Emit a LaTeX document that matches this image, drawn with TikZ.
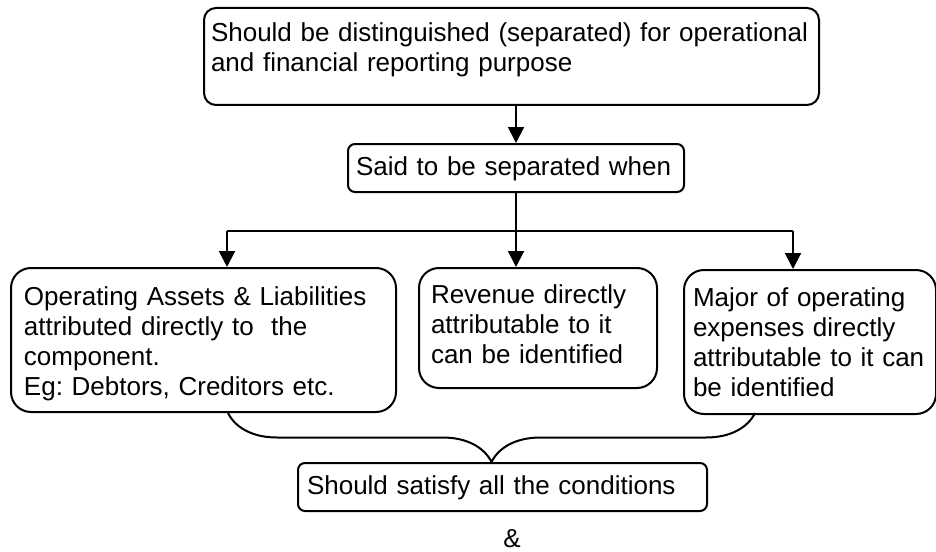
\documentclass[tikz,border=0pt]{standalone}
\usepackage{fontspec}
\setmainfont{Liberation Sans}
\usetikzlibrary{positioning, arrows.meta, decorations.pathreplacing}
\frenchspacing

\begin{document}
\begin{tikzpicture}[
      x=0.5pt, y=-0.5pt,
      line width=1pt,
      every node/.style={font=\fontsize{13}{15}\selectfont},
      smallbox/.style={draw, rounded corners=3.5pt, align=left, inner ysep=0pt, anchor=base west},
      bigbox/.style={draw, rounded corners=10pt, align=left, inner ysep=0pt, anchor=base west},
      >={Triangle[length=8pt,width=8pt]},
    ]
    \useasboundingbox (0,0) rectangle (936,551);

    \node[smallbox, rounded corners=6pt, inner xsep=3.5pt, text width=300.5pt, text height=17pt, text depth=31.5pt]
      (seg) at (203,42) {Should be distinguished (separated) for operational\\and financial reporting purpose};
    \node[smallbox, inner xsep=4pt, text width=160pt, text height=15.5pt, text depth=8.5pt]
      (sep) at (347,175) {Said to be separated when};

    \node[bigbox, inner xsep=6.5pt, text width=179.5pt, text height=18.5pt, text depth=53.5pt]
      (assets) at (10,305) {Operating Assets \& Liabilities\\attributed directly to \ the\\component.\\Eg: Debtors, Creditors etc.};
    \node[bigbox, inner xsep=6pt, text width=107pt, text height=17.5pt, text depth=42.5pt]
      (revenue) at (418,303) {Revenue directly\\attributable to it\\can be identified};
    \node[bigbox, inner xsep=4.5pt, text width=117pt, text height=18pt, text depth=54pt]
      (expenses) at (683,306) {Major of operating\\expenses directly\\attributable to it can\\be identified};

    \node[smallbox, inner xsep=4.5pt, text width=195.5pt, text height=15.5pt, text depth=8.5pt]
      (satisfy) at (297,494) {Should satisfy all the conditions};
    \node[anchor=base, inner sep=0pt] (amp) at (512,547) {\&};

    % connectors
    \coordinate (lfork) at (227,231);
    \coordinate (rfork) at (793,231);
    \draw[->] (seg.south -| sep.north) -- (sep.north);
    \draw[->] (sep.south) -- (sep.south |- revenue.north);
    \draw (lfork) -- (rfork);
    \draw[->] (lfork) -- (lfork |- assets.north);
    \draw[->] (rfork) -- (rfork |- expenses.north);

    % brace over the three conditions
    \coordinate (bl) at (228,413);
    \coordinate (br) at (755,413);
    \draw[decorate, decoration={brace, mirror, amplitude=24.5pt}] (bl) -- (br);
  \end{tikzpicture}
\end{document}
